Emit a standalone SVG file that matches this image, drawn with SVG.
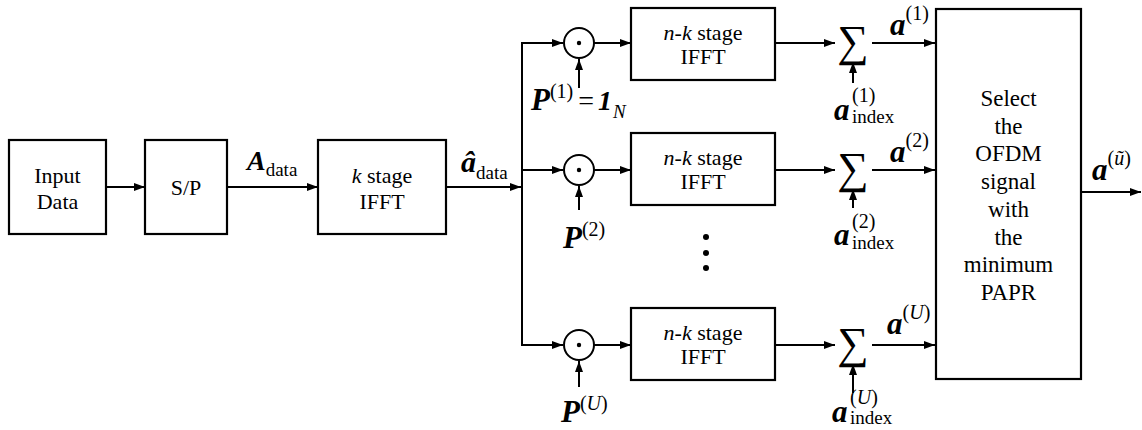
<svg xmlns="http://www.w3.org/2000/svg" width="1142" height="430" viewBox="0 0 1142 430">
<style>
.box{fill:#fff;stroke:#000;stroke-width:2.2}
.ln{fill:none;stroke:#000;stroke-width:2}
.lb{font-size:22px;fill:#000}
.ct{text-anchor:middle}
.bi{font-weight:bold;font-style:italic}
.it{font-style:italic}
.big{font-size:31px}
.sup{font-size:20px}
.sub{font-size:19px}
.sel{font-size:23px}
.sig{font-size:44px}
</style>
<defs>
<marker id="ah" markerWidth="12" markerHeight="10" refX="11" refY="5" orient="auto" markerUnits="userSpaceOnUse">
<path d="M0,1 L11,5 L0,9 Z" fill="#000"/>
</marker>
</defs>
<rect width="1142" height="430" fill="#fff"/>

<g id="input">
<rect class="box" x="9" y="140" width="97" height="94"/>
<text style="font-family:'Liberation Serif',serif" class="lb ct" x="57.5" y="183">Input</text>
<text style="font-family:'Liberation Serif',serif" class="lb ct" x="57.5" y="209">Data</text>
</g>
<g id="sp">
<rect class="box" x="145" y="140" width="82" height="94"/>
<text style="font-family:'Liberation Serif',serif" class="lb ct" x="186" y="195">S/P</text>
</g>
<g id="kifft">
<rect class="box" x="318" y="140" width="128" height="94"/>
<text style="font-family:'Liberation Serif',serif" class="lb ct" x="382" y="183"><tspan class="it">k</tspan> stage</text>
<text style="font-family:'Liberation Serif',serif" class="lb ct" x="382" y="209">IFFT</text>
</g>

<g id="mul1">
<circle class="ln" cx="579" cy="43" r="15"/>
<circle cx="579" cy="43" r="2.2" fill="#000"/>
</g>
<g id="mul2">
<circle class="ln" cx="579" cy="170" r="15"/>
<circle cx="579" cy="170" r="2.2" fill="#000"/>
</g>
<g id="mulU">
<circle class="ln" cx="579" cy="345" r="15"/>
<circle cx="579" cy="345" r="2.2" fill="#000"/>
</g>

<g id="nk1">
<rect class="box" x="631" y="8" width="144" height="72"/>
<text style="font-family:'Liberation Serif',serif" class="lb ct" x="703" y="40"><tspan class="it">n</tspan>-<tspan class="it">k</tspan> stage</text>
<text style="font-family:'Liberation Serif',serif" class="lb ct" x="703" y="64">IFFT</text>
</g>
<g id="nk2">
<rect class="box" x="631" y="133" width="144" height="72"/>
<text style="font-family:'Liberation Serif',serif" class="lb ct" x="703" y="165"><tspan class="it">n</tspan>-<tspan class="it">k</tspan> stage</text>
<text style="font-family:'Liberation Serif',serif" class="lb ct" x="703" y="189">IFFT</text>
</g>
<g id="nkU">
<rect class="box" x="631" y="308" width="144" height="72"/>
<text style="font-family:'Liberation Serif',serif" class="lb ct" x="703" y="340"><tspan class="it">n</tspan>-<tspan class="it">k</tspan> stage</text>
<text style="font-family:'Liberation Serif',serif" class="lb ct" x="703" y="364">IFFT</text>
</g>
<g id="dots">
<circle cx="706" cy="237" r="3" fill="#000"/>
<circle cx="706" cy="253" r="3" fill="#000"/>
<circle cx="706" cy="268" r="3" fill="#000"/>
</g>

<g id="sum1"><text style="font-family:'Liberation Serif',serif" class="lb ct sig" x="853" y="56">∑</text></g>
<g id="sum2"><text style="font-family:'Liberation Serif',serif" class="lb ct sig" x="853" y="183">∑</text></g>
<g id="sumU"><text style="font-family:'Liberation Serif',serif" class="lb ct sig" x="853" y="358">∑</text></g>

<g id="select">
<rect class="box" x="936" y="9" width="145" height="370"/>
<text style="font-family:'Liberation Serif',serif" class="lb ct sel" x="1008.5" y="106">Select</text>
<text style="font-family:'Liberation Serif',serif" class="lb ct sel" x="1008.5" y="133.7">the</text>
<text style="font-family:'Liberation Serif',serif" class="lb ct sel" x="1008.5" y="161.4">OFDM</text>
<text style="font-family:'Liberation Serif',serif" class="lb ct sel" x="1008.5" y="189.1">signal</text>
<text style="font-family:'Liberation Serif',serif" class="lb ct sel" x="1008.5" y="216.8">with</text>
<text style="font-family:'Liberation Serif',serif" class="lb ct sel" x="1008.5" y="244.5">the</text>
<text style="font-family:'Liberation Serif',serif" class="lb ct sel" x="1008.5" y="272.2">minimum</text>
<text style="font-family:'Liberation Serif',serif" class="lb ct sel" x="1008.5" y="299.9">PAPR</text>
</g>

<g id="connectors">
<line class="ln" x1="106" y1="187" x2="145" y2="187" marker-end="url(#ah)"/>
<line class="ln" x1="227" y1="187" x2="318" y2="187" marker-end="url(#ah)"/>
<line class="ln" x1="446" y1="187" x2="521" y2="187" marker-end="url(#ah)"/>
<line class="ln" x1="522" y1="42" x2="522" y2="346"/>
<line class="ln" x1="521" y1="43" x2="563" y2="43" marker-end="url(#ah)"/>
<line class="ln" x1="522" y1="170" x2="563" y2="170" marker-end="url(#ah)"/>
<line class="ln" x1="521" y1="345" x2="563" y2="345" marker-end="url(#ah)"/>
<line class="ln" x1="594" y1="43" x2="631" y2="43" marker-end="url(#ah)"/>
<line class="ln" x1="594" y1="170" x2="631" y2="170" marker-end="url(#ah)"/>
<line class="ln" x1="594" y1="345" x2="631" y2="345" marker-end="url(#ah)"/>
<line class="ln" x1="579" y1="88" x2="579" y2="59" marker-end="url(#ah)"/>
<line class="ln" x1="579" y1="210" x2="579" y2="186" marker-end="url(#ah)"/>
<line class="ln" x1="579" y1="387" x2="579" y2="361" marker-end="url(#ah)"/>
<line class="ln" x1="775" y1="43" x2="835" y2="43" marker-end="url(#ah)"/>
<line class="ln" x1="775" y1="170" x2="835" y2="170" marker-end="url(#ah)"/>
<line class="ln" x1="775" y1="345" x2="835" y2="345" marker-end="url(#ah)"/>
<line class="ln" x1="872" y1="43" x2="935" y2="43" marker-end="url(#ah)"/>
<line class="ln" x1="872" y1="170" x2="935" y2="170" marker-end="url(#ah)"/>
<line class="ln" x1="872" y1="345" x2="935" y2="345" marker-end="url(#ah)"/>
<line class="ln" x1="853" y1="83" x2="853" y2="62" marker-end="url(#ah)"/>
<line class="ln" x1="853" y1="208" x2="853" y2="189" marker-end="url(#ah)"/>
<line class="ln" x1="853" y1="393" x2="853" y2="364" marker-end="url(#ah)"/>
<line class="ln" x1="1081" y1="192" x2="1141" y2="192" marker-end="url(#ah)"/>
</g>

<g id="labels">
<text style="font-family:'Liberation Serif',serif" class="lb" x="247" y="170"><tspan class="bi" style="font-size:28px">A</tspan><tspan class="sub" dy="6">data</tspan></text>
<text style="font-family:'Liberation Serif',serif" class="lb" x="461" y="172"><tspan class="bi" style="font-size:30px">â</tspan><tspan class="sub" dy="7">data</tspan></text>
<text style="font-family:'Liberation Serif',serif" class="lb" x="531" y="110"><tspan class="bi big">P</tspan><tspan class="sup" dy="-12">(1)</tspan><tspan dy="12" dx="5" style="font-size:28px">=</tspan><tspan class="bi" dx="4" style="font-size:28px">1</tspan><tspan class="it sub" dy="8" dx="1">N</tspan></text>
<text style="font-family:'Liberation Serif',serif" class="lb" x="563" y="248"><tspan class="bi big">P</tspan><tspan class="sup" dy="-12">(2)</tspan></text>
<text style="font-family:'Liberation Serif',serif" class="lb" x="561" y="422"><tspan class="bi big">P</tspan><tspan class="sup" dy="-12">(<tspan class="it">U</tspan>)</tspan></text>
<text style="font-family:'Liberation Serif',serif" class="lb" x="890" y="35"><tspan class="bi big">a</tspan><tspan class="sup" dy="-15">(1)</tspan></text>
<text style="font-family:'Liberation Serif',serif" class="lb" x="890" y="162"><tspan class="bi big">a</tspan><tspan class="sup" dy="-15">(2)</tspan></text>
<text style="font-family:'Liberation Serif',serif" class="lb" x="887" y="334"><tspan class="bi big">a</tspan><tspan class="sup" dy="-15">(<tspan class="it">U</tspan>)</tspan></text>
<text style="font-family:'Liberation Serif',serif" class="lb" x="834" y="120"><tspan class="bi big">a</tspan></text>
<text style="font-family:'Liberation Serif',serif" class="lb sup" x="852" y="102">(1)</text>
<text style="font-family:'Liberation Serif',serif" class="lb sub" x="852" y="123">index</text>
<text style="font-family:'Liberation Serif',serif" class="lb" x="834" y="245"><tspan class="bi big">a</tspan></text>
<text style="font-family:'Liberation Serif',serif" class="lb sup" x="852" y="228">(2)</text>
<text style="font-family:'Liberation Serif',serif" class="lb sub" x="852" y="249">index</text>
<text style="font-family:'Liberation Serif',serif" class="lb" x="832" y="422"><tspan class="bi big">a</tspan></text>
<text style="font-family:'Liberation Serif',serif" class="lb sup" x="850" y="404">(<tspan class="it">U</tspan>)</text>
<text style="font-family:'Liberation Serif',serif" class="lb sub" x="850" y="424">index</text>
<text style="font-family:'Liberation Serif',serif" class="lb" x="1092" y="180"><tspan class="bi big">a</tspan><tspan class="sup" dy="-15">(<tspan class="it">ũ</tspan>)</tspan></text>
</g>
</svg>
